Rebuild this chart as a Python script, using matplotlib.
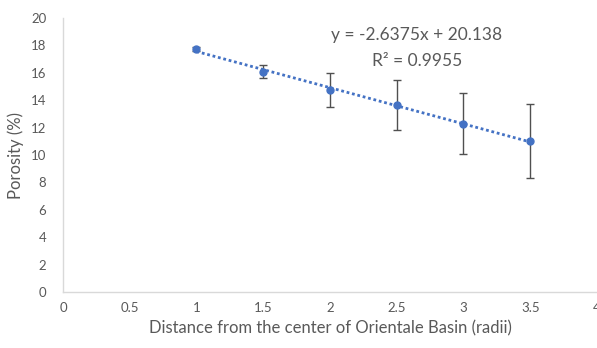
import matplotlib
matplotlib.use("Agg")
import matplotlib.pyplot as plt
import numpy as np

plt.rcParams['font.family'] = ['Lato', 'DejaVu Sans']

distance = [1.0, 1.5, 2.0, 2.5, 3.0, 3.5]
porosity = [17.75, 16.1, 14.75, 13.65, 12.3, 11.0]
error = [0.15, 0.5, 1.25, 1.85, 2.2, 2.7]
x_ticks = [0, 0.5, 1, 1.5, 2, 2.5, 3, 3.5, 4]
x_tick_labels = ['0', '0.5', '1', '1.5', '2', '2.5', '3', '3.5', '4']
y_ticks = [0, 2, 4, 6, 8, 10, 12, 14, 16, 18, 20]
equation_text = "y = -2.6375x + 20.138"
r2_text = "R² = 0.9955"

blue = '#4472C4'
gray = '#595959'

fig = plt.figure(figsize=(5.97, 3.48), dpi=100)
ax = fig.add_axes([0.1055, 0.161, 0.8945, 0.787])

ax.errorbar(distance, porosity, yerr=error, fmt='none', ecolor='#505050',
            elinewidth=1.0, capsize=3, capthick=1.0, zorder=2)
ax.plot(distance, porosity, 'o', color=blue, markersize=5, zorder=3)

coef = np.polyfit(distance, porosity, 1)
xs = np.array([distance[0], distance[-1]])
ax.plot(xs, np.polyval(coef, xs), linestyle=(0, (1, 1)), color=blue, linewidth=2, zorder=2)

ax.set_xlim(0, 4)
ax.set_ylim(0, 20)
ax.set_xticks(x_ticks)
ax.set_xticklabels(x_tick_labels)
ax.set_yticks(y_ticks)
ax.tick_params(axis='both', length=0, labelsize=9.5, colors=gray)
ax.tick_params(axis='y', pad=12)
ax.tick_params(axis='x', pad=7)
for s in ['top', 'right']:
    ax.spines[s].set_visible(False)
for s in ['left', 'bottom']:
    ax.spines[s].set_color('#D9D9D9')
    ax.spines[s].set_linewidth(1)

ax.set_xlabel('Distance from the center of Orientale Basin (radii)', fontsize=12, color=gray, labelpad=5)
ax.set_ylabel('Porosity (%)', fontsize=12, color=gray, labelpad=5)

ax.text(2.65, 18.75, equation_text, fontsize=12.5, color=gray, ha='center', va='center')
ax.text(2.65, 16.85, r2_text, fontsize=12.5, color=gray, ha='center', va='center')

fig.savefig('out.png', dpi=100)
